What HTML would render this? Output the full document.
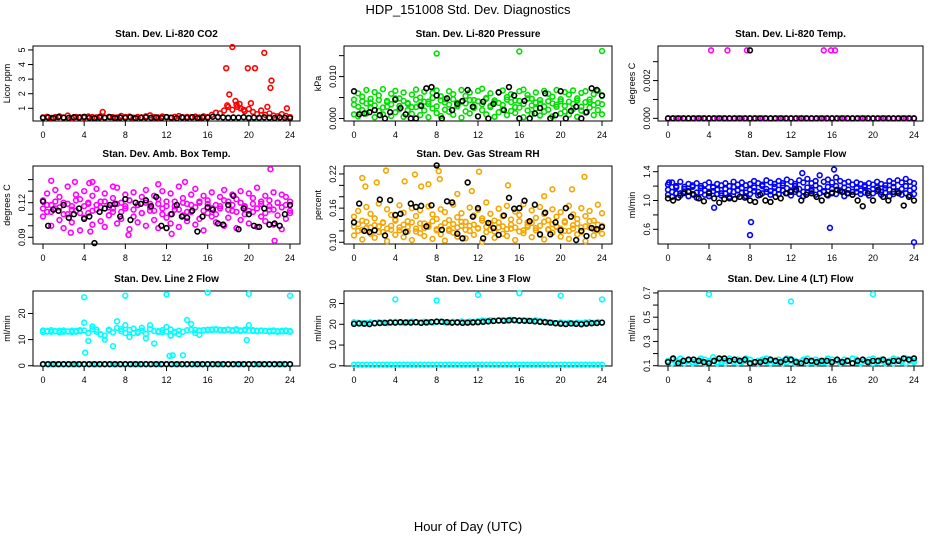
<!DOCTYPE html>
<html><head><meta charset="utf-8"><style>
body{margin:0;background:#fff;width:936px;height:540px;overflow:hidden}
svg text{font-family:"Liberation Sans",sans-serif;fill:#000}
</style></head><body>
<svg id="chart" width="936" height="540" viewBox="0 0 936 540" xmlns="http://www.w3.org/2000/svg">
<text x="468" y="14" font-size="13" text-anchor="middle">HDP_151008  Std. Dev. Diagnostics</text>
<text x="468" y="531" font-size="13" text-anchor="middle">Hour of Day (UTC)</text>
</svg>
<script>
const xTicks=[0,4,8,12,16,20,24];
const tC=Array.from({length:61},(_,i)=>i*0.4);
const tK=Array.from({length:49},(_,i)=>i*0.5);

const co2Red=[0.38,0.42,0.35,0.40,0.45,0.37,0.50,0.33,0.41,0.39,0.36,0.44,0.40,0.38,0.46,0.35,0.42,0.39,0.37,0.48,0.40,0.43,0.36,0.41,0.38,0.45,0.52,0.39,0.37,0.44,0.40,0.36,0.42,0.47,0.38,0.41,0.39,0.43,0.37,0.45,0.40,0.55,0.70,0.65,0.85,1.10,0.90,1.25,1.00,0.80,0.95,0.75,0.60,0.85,0.55,0.65,0.50,0.45,0.60,0.48,0.40];
const co2OutT=[17.8,18.1,18.4,19.9,20.6,21.5,22.2,22.1,17.9,18.7,19.1,18.9,19.5,20.2,21.8,23.7,5.8];
const co2OutV=[3.75,1.95,5.2,3.75,3.75,4.8,2.9,2.4,1.2,1.5,1.3,1.1,0.9,1.35,1.1,1.0,0.75];
const co2Blk=[0.35,0.38,0.33,0.40,0.36,0.34,0.39,0.37,0.42,0.35,0.33,0.38,0.36,0.40,0.34,0.37,0.35,0.39,0.33,0.36,0.38,0.35,0.37,0.34,0.40,0.36,0.33,0.38,0.35,0.39,0.34,0.37,0.36,0.42,0.40,0.38,0.35,0.37,0.36,0.39,0.34,0.37,0.35,0.38,0.36,0.34,0.37,0.35,0.33];

const presA=[0.001,0.0005,0.002,0.0012,0.0025,0.0003,0.0018,0.001,0.0028,0.0006,0.0015,0.0022,0.0004,0.002,0.0011,0.0027,0.0008,0.0019,0.0003,0.0024,0.0013,0.0006,0.0021,0.0016,0.0009,0.0029,0.0002,0.0017,0.0012,0.0025,0.0005,0.0020,0.0010,0.0027,0.0004,0.0015,0.0022,0.0008,0.0018,0.0013,0.0026,0.0003,0.0019,0.0011,0.0024,0.0007,0.0016,0.0021,0.0005,0.0028,0.0012,0.0017,0.0009,0.0023,0.0004,0.0019,0.0014,0.0026,0.0008,0.0020,0.0010];
const presB=[0.0045,0.006,0.0052,0.0068,0.0038,0.0063,0.0055,0.0070,0.0042,0.0059,0.0066,0.0048,0.0062,0.0035,0.0057,0.0069,0.0050,0.0064,0.0040,0.0061,0.0067,0.0053,0.0046,0.0065,0.0058,0.0037,0.0068,0.0054,0.0062,0.0044,0.0066,0.0071,0.0049,0.0060,0.0039,0.0063,0.0067,0.0051,0.0058,0.0043,0.0065,0.0069,0.0056,0.0047,0.0062,0.0036,0.0066,0.0059,0.0052,0.0068,0.0041,0.0063,0.0057,0.0067,0.0048,0.0061,0.0065,0.0039,0.0058,0.0066,0.0054];
const presC=[0.0033,0.0028,0.0041,0.0036,0.0047,0.0031,0.0044,0.0026,0.0039,0.0034,0.0048,0.0030,0.0042,0.0037,0.0027,0.0045,0.0032,0.0040,0.0035,0.0049,0.0029,0.0043,0.0038,0.0033,0.0046,0.0031,0.0040,0.0036,0.0044,0.0028,0.0041,0.0034,0.0047,0.0030,0.0043,0.0037,0.0032,0.0045,0.0039,0.0027,0.0042,0.0035,0.0048,0.0031,0.0038,0.0044,0.0029,0.0041,0.0036,0.0033,0.0046,0.0030,0.0040,0.0035,0.0043,0.0028,0.0039,0.0045,0.0032,0.0037,0.0034];
const presOutT=[8,16,24];
const presOutV=[0.0155,0.0160,0.0161];
const presBlk=[0.0065,0.001,0.0012,0.0015,0.002,0.0008,0.0,0.0015,0.0045,0.0025,0.001,0.0,0.0,0.003,0.0072,0.0075,0.0055,0.0,0.0048,0.002,0.0035,0.0042,0.0068,0.0028,0.0005,0.004,0.0,0.0035,0.0062,0.002,0.0075,0.0055,0.0,0.0042,0.0,0.0012,0.0025,0.006,0.0,0.0008,0.0065,0.0,0.0018,0.0028,0.0,0.0015,0.0072,0.0068,0.0055];

const tempMag=[0,0,0,0,0,0,0,0,0,0,0,0,0,0,0,0,0,0,0,0,0,0,0,0,0,0,0,0,0,0,0,0,0,0,0,0,0,0,0,0,0,0,0,0,0,0,0,0,0,0,0,0,0,0,0,0,0,0,0,0,0];
const tempOutT=[4.2,5.8,7.7,15.2,15.9,16.3];
const tempOutV=[0.0036,0.0036,0.0036,0.0036,0.0036,0.0036];
const tempBlk=[0,0,0,0,0,0,0,0,0,0,0,0,0,0,0,0,0,0,0,0,0,0,0,0,0,0,0,0,0,0,0,0,0,0,0,0,0,0,0,0,0,0,0,0,0,0,0,0,0];
const tempBlkOutT=[8];
const tempBlkOutV=[0.0036];

const ambA=[0.108,0.112,0.100,0.115,0.105,0.098,0.110,0.103,0.113,0.096,0.107,0.111,0.101,0.114,0.104,0.099,0.109,0.112,0.102,0.106,0.115,0.097,0.108,0.103,0.111,0.100,0.113,0.105,0.098,0.110,0.107,0.102,0.114,0.099,0.109,0.104,0.112,0.101,0.106,0.096,0.111,0.108,0.103,0.115,0.100,0.107,0.113,0.098,0.105,0.110,0.102,0.112,0.099,0.108,0.104,0.114,0.101,0.109,0.097,0.106,0.111];
const ambB=[0.122,0.128,0.118,0.131,0.125,0.120,0.134,0.117,0.127,0.123,0.130,0.119,0.126,0.132,0.121,0.128,0.116,0.124,0.133,0.120,0.127,0.122,0.129,0.118,0.125,0.131,0.119,0.126,0.123,0.130,0.117,0.128,0.121,0.134,0.124,0.119,0.127,0.132,0.120,0.126,0.122,0.129,0.118,0.125,0.131,0.121,0.127,0.123,0.130,0.117,0.128,0.124,0.133,0.119,0.126,0.122,0.129,0.120,0.127,0.125,0.121];
const ambC=[0.115,0.118,0.112,0.121,0.116,0.110,0.119,0.114,0.122,0.111,0.117,0.120,0.113,0.118,0.116,0.121,0.109,0.115,0.119,0.112,0.117,0.122,0.114,0.118,0.111,0.120,0.116,0.113,0.119,0.115,0.121,0.110,0.117,0.114,0.120,0.112,0.118,0.116,0.121,0.113,0.119,0.115,0.110,0.117,0.122,0.114,0.118,0.112,0.120,0.116,0.113,0.119,0.115,0.121,0.111,0.117,0.114,0.120,0.116,0.118,0.113];
const ambOutT=[0.8,3.1,4.5,4.8,6.8,11.2,13.8,22.1,22.5,2.7,4.6,8.3,12.5];
const ambOutV=[0.139,0.138,0.137,0.138,0.134,0.136,0.138,0.149,0.087,0.094,0.095,0.092,0.093];
const ambBlk=[0.121,0.100,0.114,0.113,0.118,0.107,0.110,0.115,0.106,0.108,0.085,0.112,0.115,0.118,0.119,0.108,0.123,0.105,0.120,0.119,0.122,0.117,0.125,0.100,0.098,0.110,0.118,0.108,0.107,0.113,0.095,0.108,0.116,0.114,0.102,0.101,0.118,0.126,0.097,0.115,0.110,0.100,0.099,0.115,0.101,0.102,0.100,0.110,0.118];

const rhA=[0.112,0.120,0.105,0.125,0.115,0.108,0.128,0.118,0.102,0.122,0.113,0.126,0.109,0.119,0.104,0.124,0.116,0.111,0.127,0.106,0.121,0.114,0.103,0.123,0.117,0.110,0.129,0.107,0.120,0.113,0.125,0.101,0.118,0.122,0.108,0.126,0.115,0.111,0.124,0.104,0.119,0.116,0.127,0.109,0.121,0.113,0.105,0.123,0.117,0.128,0.110,0.120,0.106,0.124,0.114,0.118,0.102,0.126,0.112,0.121,0.115];
const rhB=[0.145,0.155,0.138,0.162,0.150,0.142,0.168,0.135,0.158,0.148,0.140,0.165,0.152,0.137,0.160,0.146,0.156,0.133,0.163,0.149,0.141,0.158,0.153,0.139,0.166,0.144,0.151,0.136,0.161,0.147,0.157,0.142,0.170,0.150,0.138,0.159,0.146,0.164,0.140,0.154,0.148,0.167,0.135,0.156,0.143,0.162,0.150,0.139,0.158,0.145,0.153,0.137,0.164,0.149,0.141,0.160,0.146,0.155,0.138,0.166,0.151];
const rhC=[0.128,0.132,0.122,0.136,0.126,0.130,0.118,0.134,0.124,0.129,0.138,0.121,0.131,0.127,0.135,0.119,0.133,0.125,0.130,0.137,0.123,0.128,0.134,0.120,0.132,0.126,0.136,0.122,0.129,0.131,0.124,0.138,0.127,0.133,0.119,0.135,0.128,0.123,0.131,0.126,0.137,0.121,0.130,0.134,0.125,0.129,0.136,0.122,0.132,0.127,0.124,0.135,0.120,0.130,0.133,0.126,0.128,0.137,0.123,0.131,0.129];
const rhOutT=[0.8,1.1,3.1,4.9,5.9,8.2,8.3,11.4,12.1,19.2,21.1,22.3,2.2,7.2,14.9,18.4,6.5,10.0];
const rhOutV=[0.213,0.198,0.226,0.207,0.219,0.225,0.211,0.190,0.224,0.193,0.193,0.215,0.205,0.202,0.200,0.181,0.198,0.185];
const rhBlk=[0.135,0.168,0.120,0.118,0.121,0.175,0.112,0.174,0.148,0.150,0.118,0.168,0.162,0.164,0.128,0.165,0.235,0.122,0.172,0.170,0.115,0.107,0.205,0.145,0.160,0.107,0.134,0.125,0.113,0.147,0.178,0.159,0.160,0.173,0.137,0.166,0.114,0.152,0.114,0.135,0.121,0.160,0.145,0.104,0.120,0.111,0.125,0.123,0.127];

const flowA=[1.15,1.12,1.18,1.10,1.16,1.13,1.19,1.11,1.17,1.14,1.12,1.18,1.15,1.10,1.16,1.13,1.19,1.14,1.17,1.11,1.15,1.18,1.12,1.20,1.16,1.13,1.19,1.15,1.21,1.17,1.14,1.20,1.16,1.12,1.18,1.15,1.21,1.17,1.13,1.19,1.16,1.20,1.14,1.18,1.15,1.12,1.17,1.14,1.19,1.13,1.16,1.18,1.12,1.17,1.15,1.19,1.13,1.16,1.20,1.14,1.17];
const flowB=[1.22,1.25,1.20,1.26,1.19,1.23,1.21,1.24,1.20,1.22,1.25,1.19,1.23,1.21,1.24,1.20,1.26,1.22,1.25,1.21,1.23,1.27,1.24,1.22,1.28,1.25,1.23,1.27,1.24,1.29,1.26,1.23,1.28,1.25,1.30,1.24,1.27,1.35,1.26,1.29,1.25,1.32,1.27,1.24,1.26,1.22,1.25,1.23,1.21,1.24,1.22,1.26,1.23,1.21,1.27,1.24,1.28,1.25,1.30,1.26,1.24];
const flowC=[1.08,1.05,1.10,1.07,1.12,1.06,1.09,1.04,1.11,1.08,1.06,1.13,1.09,1.07,1.10,1.05,1.12,1.08,1.11,1.06,1.09,1.13,1.07,1.10,1.12,1.08,1.11,1.09,1.14,1.10,1.07,1.12,1.09,1.06,1.11,1.13,1.08,1.10,1.12,1.07,1.11,1.09,1.13,1.06,1.10,1.08,1.12,1.09,1.11,1.07,1.10,1.13,1.08,1.11,1.06,1.09,1.12,1.08,1.10,1.07,1.09];
const flowOutT=[8,8.1,4.5,15.8,24,16.2,13.1,0.1];
const flowOutV=[0.52,0.70,0.90,0.62,0.42,1.43,1.38,1.25];
const flowBlk=[1.03,1.00,1.04,1.10,1.12,1.08,1.03,0.99,1.10,1.03,0.97,1.02,1.03,1.02,1.05,1.04,1.00,0.98,1.08,1.00,0.98,1.05,1.03,1.10,1.12,1.15,1.00,1.08,1.10,1.05,1.00,1.08,1.10,1.15,1.12,1.10,1.08,1.00,0.92,1.10,1.00,1.15,1.05,1.00,1.12,1.10,0.93,1.05,1.00];

const l2A=[13.5,13.3,13.6,13.2,13.4,13.5,13.1,13.4,13.3,13.6,16.5,9.5,15.0,13.8,12.0,10.0,13.5,7.5,17.0,14.0,15.5,11.0,12.5,13.0,14.5,10.5,15.5,8.5,13.2,12.8,14.8,11.5,13.0,12.0,4.0,17.5,16.0,12.5,11.8,13.6,13.8,13.9,14.0,13.8,13.7,13.9,13.6,14.0,13.5,13.8,15.5,13.6,13.4,13.5,13.3,13.4,13.5,13.2,13.4,13.5,13.3];
const l2B=[12.9,13.1,13.0,13.2,12.8,13.0,13.1,12.9,13.0,13.2,13.5,12.5,14.0,13.0,12.0,11.5,13.8,12.8,14.5,13.2,12.5,13.7,14.2,12.6,13.4,12.2,14.0,13.3,12.9,13.6,13.1,13.9,12.7,13.4,13.0,13.6,13.8,13.7,13.5,13.6,13.6,13.7,13.8,13.6,13.5,13.7,13.4,13.6,13.3,13.5,13.4,13.3,13.2,13.4,13.3,13.1,13.2,13.0,13.1,13.2,13.0];
const l2Low=[0.6,0.6,0.6,0.6,0.6,0.6,0.6,0.6,0.6,0.6,0.6,0.6,0.6,0.6,0.6,0.6,0.6,0.6,0.6,0.6,0.6,0.6,0.6,0.6,0.6,0.6,0.6,0.6,0.6,0.6,0.6,0.6,0.6,0.6,0.6,0.6,0.6,0.6,0.6,0.6,0.6,0.6,0.6,0.6,0.6,0.6,0.6,0.6,0.6,0.6,0.6,0.6,0.6,0.6,0.6,0.6,0.6,0.6,0.6,0.6,0.6];
const l2OutT=[4,8,12,16,20,24,4.1,12.3,12.6,19.8];
const l2OutV=[26.2,26.8,27.3,28.0,27.5,26.8,5.0,3.8,4.0,9.8];
const l2Blk=[0.6,0.6,0.6,0.6,0.6,0.6,0.6,0.6,0.6,0.6,0.6,0.6,0.6,0.6,0.6,0.6,0.6,0.6,0.6,0.6,0.6,0.6,0.6,0.6,0.6,0.6,0.6,0.6,0.6,0.6,0.6,0.6,0.6,0.6,0.6,0.6,0.6,0.6,0.6,0.6,0.6,0.6,0.6,0.6,0.6,0.6,0.6,0.6,0.6];

const l3A=[21.0,20.8,20.5,20.6,20.9,20.7,21.0,20.8,20.6,20.9,21.2,21.0,20.8,21.1,21.3,21.0,20.9,21.2,21.0,20.8,21.1,21.3,21.0,20.9,21.2,21.1,21.4,21.0,21.3,21.2,21.5,21.8,21.6,22.0,21.7,21.9,22.1,21.8,22.2,21.9,21.7,22.0,21.8,21.6,21.9,21.5,21.3,21.0,20.8,20.6,20.9,20.5,20.7,20.4,20.8,20.6,20.9,21.0,20.7,21.1,20.9];
const l3Low=[0.5,0.5,0.5,0.5,0.5,0.5,0.5,0.5,0.5,0.5,0.5,0.5,0.5,0.5,0.5,0.5,0.5,0.5,0.5,0.5,0.5,0.5,0.5,0.5,0.5,0.5,0.5,0.5,0.5,0.5,0.5,0.5,0.5,0.5,0.5,0.5,0.5,0.5,0.5,0.5,0.5,0.5,0.5,0.5,0.5,0.5,0.5,0.5,0.5,0.5,0.5,0.5,0.5,0.5,0.5,0.5,0.5,0.5,0.5,0.5,0.5];
const l3OutT=[4,8,12,16,20,24];
const l3OutV=[32,31.5,34.2,35,33.8,32];
const l3Blk=[20.2,20.4,20.3,20.1,20.5,20.6,20.7,20.9,20.8,21.0,20.9,20.8,21.0,20.7,20.9,21.1,21.3,21.2,21.0,20.8,20.9,20.7,20.8,20.9,21.0,21.2,21.4,21.6,21.8,21.7,21.9,22.0,21.8,21.7,21.6,21.4,21.2,21.0,20.8,20.5,20.3,20.1,20.4,20.2,20.0,20.3,20.5,20.6,20.8];

const l4A=[0.14,0.15,0.13,0.16,0.14,0.15,0.13,0.14,0.16,0.15,0.14,0.17,0.13,0.15,0.14,0.16,0.13,0.15,0.14,0.16,0.15,0.13,0.14,0.15,0.16,0.14,0.13,0.15,0.14,0.16,0.15,0.14,0.13,0.15,0.16,0.14,0.15,0.13,0.14,0.16,0.15,0.14,0.13,0.15,0.14,0.16,0.15,0.13,0.14,0.15,0.16,0.14,0.15,0.13,0.14,0.16,0.15,0.14,0.16,0.15,0.14];
const l4B=[0.13,0.12,0.14,0.13,0.12,0.14,0.12,0.13,0.14,0.12,0.13,0.14,0.12,0.13,0.12,0.14,0.13,0.12,0.13,0.14,0.12,0.13,0.12,0.14,0.13,0.12,0.14,0.13,0.12,0.13,0.14,0.12,0.13,0.14,0.12,0.13,0.12,0.14,0.13,0.12,0.13,0.14,0.12,0.13,0.14,0.12,0.13,0.12,0.14,0.13,0.12,0.13,0.14,0.12,0.13,0.12,0.14,0.13,0.12,0.14,0.13];
const l4OutT=[4,12,20];
const l4OutV=[0.69,0.63,0.69];
const l4Blk=[0.13,0.16,0.12,0.14,0.15,0.15,0.14,0.13,0.12,0.14,0.16,0.16,0.14,0.15,0.14,0.15,0.12,0.13,0.13,0.14,0.15,0.14,0.13,0.15,0.15,0.13,0.12,0.14,0.14,0.13,0.14,0.14,0.13,0.15,0.13,0.14,0.12,0.14,0.15,0.13,0.14,0.14,0.15,0.13,0.14,0.14,0.16,0.15,0.16];

const co2Ticks=[1,2,3,4,5], co2Labels=["1","2","3","4","5"];
const presTicks=[0,0.005,0.010,0.015], presLabels=["0.000","","0.010",""];
const tempTicks=[0,0.001,0.002,0.003], tempLabels=["0.000","","0.002",""];
const ambTicks=[0.09,0.10,0.11,0.12,0.13,0.14], ambLabels=["0.09","","","0.12","",""];
const rhTicks=[0.10,0.12,0.14,0.16,0.18,0.20,0.22], rhLabels=["0.10","","","0.16","","","0.22"];
const flowTicks=[0.6,0.8,1.0,1.2,1.4], flowLabels=["0.6","","1.0","","1.4"];
const l2Ticks=[0,10,20], l2Labels=["0","10","20"];
const l3Ticks=[0,10,20,30], l3Labels=["0","10","20","30"];
const l4Ticks=[0.1,0.2,0.3,0.4,0.5,0.6,0.7], l4Labels=["0.1","","0.3","","0.5","","0.7"];

const NS="http://www.w3.org/2000/svg";
const svg=document.getElementById('chart');
const COLS=[{l:33,r:300,x0:43,x1:290},{l:344,r:612,x0:354,x1:602},{l:658,r:923,x0:668,x1:914}];
const ROWS=[{t:46,b:121},{t:166,b:244},{t:291,b:366}];
function mk(tag,attrs,parent){const e=document.createElementNS(NS,tag);for(const k in attrs)e.setAttribute(k,attrs[k]);(parent||svg).appendChild(e);return e;}

function panel(p){
  const C=COLS[p.col],R=ROWS[p.row];
  const g=mk('g',{});
  
  
  const xs=t=>C.x0+(t/24)*(C.x1-C.x0);
  const ys=v=>R.b-(v-p.ylim[0])/(p.ylim[1]-p.ylim[0])*(R.b-R.t);
  const box=mk('rect',{x:C.l,y:R.t,width:C.r-C.l,height:R.b-R.t,fill:'none',stroke:'#000','stroke-width':1},g);
  
  
  const tt=mk('text',{x:(C.l+C.r)/2,y:R.t-9,'font-size':10,'font-weight':'bold','text-anchor':'middle'},g);
  tt.textContent=p.title;
  
  
  const yl=mk('text',{transform:`translate(${C.l-23},${(R.t+R.b)/2}) rotate(-90)`,'font-size':9,'text-anchor':'middle'},g);
  yl.textContent=p.ylab;
  
  
  xTicks.forEach(t=>{
    const x=xs(t);
    mk('line',{x1:x,x2:x,y1:R.b,y2:R.b+5,stroke:'#000'},g);
    const lb=mk('text',{x:x,y:R.b+17,'font-size':9,'text-anchor':'middle'},g);
    lb.textContent=t;
    
    
  });
  p.yticks.forEach((v,i)=>{
    const y=ys(v);
    mk('line',{x1:C.l-5,x2:C.l,y1:y,y2:y,stroke:'#000'},g);
    if(p.ylabels[i]){
      const lb=mk('text',{transform:`translate(${C.l-8},${y}) rotate(-90)`,'font-size':9,'text-anchor':'middle'},g);
      lb.textContent=p.ylabels[i];
      
      
    }
  });
  p.series.forEach(s=>{
    const sg=mk('g',{},g);
    
    
    s.v.forEach((v,i)=>{
      const c=mk('circle',{cx:xs(s.t[i]),cy:ys(v),r:2.4,fill:'none',stroke:s.c,'stroke-width':1.6},sg);
      
      
    });
  });
}
const RED='#ff0000',BLK='#000',GRN='#00e000',MAG='#ff00ff',ORG='#f6a600',BLU='#0000ff',CYN='#00ffff';
panel({name:'co2',title:'Stan. Dev. Li-820 CO2',ylab:'Licor ppm',col:0,row:0,ylim:[0.13,5.27],yticks:co2Ticks,ylabels:co2Labels,
 series:[{id:'red',t:tC,v:co2Red,c:RED},{id:'red-high',t:co2OutT,v:co2OutV,c:RED},{id:'black',t:tK,v:co2Blk,c:BLK}]});
panel({name:'pressure',title:'Stan. Dev. Li-820 Pressure',ylab:'kPa',col:1,row:0,ylim:[-0.0006,0.0173],yticks:presTicks,ylabels:presLabels,
 series:[{id:'green-a',t:tC,v:presA,c:GRN},{id:'green-b',t:tC,v:presB,c:GRN},{id:'green-c',t:tC,v:presC,c:GRN},{id:'green-high',t:presOutT,v:presOutV,c:GRN},{id:'black',t:tK,v:presBlk,c:BLK}]});
panel({name:'temp',title:'Stan. Dev. Li-820 Temp.',ylab:'degrees C',col:2,row:0,ylim:[-0.00014,0.00383],yticks:tempTicks,ylabels:tempLabels,
 series:[{id:'magenta',t:tC,v:tempMag,c:MAG},{id:'magenta-high',t:tempOutT,v:tempOutV,c:MAG},{id:'black',t:tK,v:tempBlk,c:BLK},{id:'black-high',t:tempBlkOutT,v:tempBlkOutV,c:BLK}]});
panel({name:'amb-box-temp',title:'Stan. Dev. Amb. Box Temp.',ylab:'degrees C',col:0,row:1,ylim:[0.0842,0.1518],yticks:ambTicks,ylabels:ambLabels,
 series:[{id:'magenta-a',t:tC,v:ambA,c:MAG},{id:'magenta-b',t:tC,v:ambB,c:MAG},{id:'magenta-c',t:tC,v:ambC,c:MAG},{id:'magenta-out',t:ambOutT,v:ambOutV,c:MAG},{id:'black',t:tK,v:ambBlk,c:BLK}]});
panel({name:'gas-rh',title:'Stan. Dev. Gas Stream RH',ylab:'percent',col:1,row:1,ylim:[0.097,0.234],yticks:rhTicks,ylabels:rhLabels,
 series:[{id:'orange-a',t:tC,v:rhA,c:ORG},{id:'orange-b',t:tC,v:rhB,c:ORG},{id:'orange-c',t:tC,v:rhC,c:ORG},{id:'orange-high',t:rhOutT,v:rhOutV,c:ORG},{id:'black',t:tK,v:rhBlk,c:BLK}]});
panel({name:'sample-flow',title:'Stan. Dev. Sample Flow',ylab:'ml/min',col:2,row:1,ylim:[0.396,1.479],yticks:flowTicks,ylabels:flowLabels,
 series:[{id:'blue-a',t:tC,v:flowA,c:BLU},{id:'blue-b',t:tC,v:flowB,c:BLU},{id:'blue-c',t:tC,v:flowC,c:BLU},{id:'blue-out',t:flowOutT,v:flowOutV,c:BLU},{id:'black',t:tK,v:flowBlk,c:BLK}]});
panel({name:'line2-flow',title:'Stan. Dev. Line 2 Flow',ylab:'ml/min',col:0,row:2,ylim:[-0.1,28.6],yticks:l2Ticks,ylabels:l2Labels,
 series:[{id:'cyan-a',t:tC,v:l2A,c:CYN},{id:'cyan-b',t:tC,v:l2B,c:CYN},{id:'cyan-low',t:tC,v:l2Low,c:CYN},{id:'cyan-out',t:l2OutT,v:l2OutV,c:CYN},{id:'black',t:tK,v:l2Blk,c:BLK}]});
panel({name:'line3-flow',title:'Stan. Dev. Line 3 Flow',ylab:'ml/min',col:1,row:2,ylim:[-0.1,36.05],yticks:l3Ticks,ylabels:l3Labels,
 series:[{id:'cyan-a',t:tC,v:l3A,c:CYN},{id:'cyan-low',t:tC,v:l3Low,c:CYN},{id:'cyan-out',t:l3OutT,v:l3OutV,c:CYN},{id:'black',t:tK,v:l3Blk,c:BLK}]});
panel({name:'line4-flow',title:'Stan. Dev. Line 4 (LT) Flow',ylab:'ml/min',col:2,row:2,ylim:[0.0975,0.716],yticks:l4Ticks,ylabels:l4Labels,
 series:[{id:'cyan-a',t:tC,v:l4A,c:CYN},{id:'cyan-b',t:tC,v:l4B,c:CYN},{id:'cyan-out',t:l4OutT,v:l4OutV,c:CYN},{id:'black',t:tK,v:l4Blk,c:BLK}]});
</script>
</body></html>
